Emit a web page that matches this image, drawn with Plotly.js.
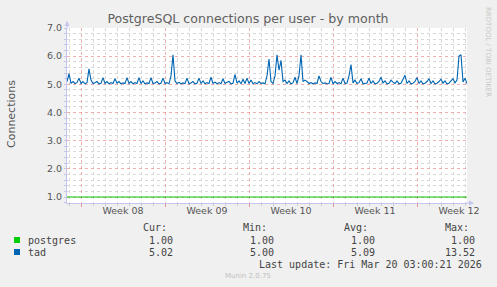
<!DOCTYPE html>
<html>
<head>
<meta charset="utf-8">
<script src="https://cdn.plot.ly/plotly-3.0.1.min.js"></script>
<style>html,body{margin:0;padding:0;background:#f0f0f0;}#chart{width:497px;height:287px;}</style>
</head>
<body>
<div id="chart"></div>
<script>
// ---- data ----
const seriesNames = ['postgres', 'tad'];
const seriesColors = ['#00cc00', '#0066b3'];
const startTime = Date.UTC(2026, 1, 14, 20, 0, 0); // first sample
const stepHours = 4;
// tad: connections, one value every 4 hours
const tadValues = [
  5.10, 5.38, 5.04, 5.10, 5.03, 5.06,
  5.22, 5.03, 5.10, 5.02, 5.06, 5.55,
  5.15, 5.03, 5.06, 5.10, 5.02, 5.04,
  5.24, 5.03, 5.10, 5.02, 5.06, 5.03,
  5.20, 5.04, 5.10, 5.02, 5.05, 5.03,
  5.24, 5.03, 5.10, 5.02, 5.06, 5.03,
  5.24, 5.03, 5.12, 5.02, 5.05, 5.03,
  5.24, 5.03, 5.05, 5.10, 5.02, 5.04,
  5.22, 5.03, 5.06, 5.02, 5.30, 6.05,
  5.12, 5.03, 5.07, 5.02, 5.05, 5.03,
  5.22, 5.02, 5.05, 5.10, 5.02, 5.04,
  5.22, 5.03, 5.12, 5.02, 5.06, 5.03,
  5.25, 5.03, 5.08, 5.02, 5.06, 5.02,
  5.20, 5.03, 5.07, 5.10, 5.02, 5.04,
  5.35, 5.04, 5.12, 5.02, 5.18, 5.03,
  5.22, 5.03, 5.15, 5.02, 5.06, 5.02,
  5.10, 5.03, 5.05, 5.02, 5.30, 5.90,
  5.10, 5.03, 5.30, 6.05, 5.50, 5.85,
  5.10, 5.15, 5.03, 5.12, 5.02, 5.05,
  5.25, 5.03, 5.30, 6.05, 5.10, 5.15,
  5.10, 5.03, 5.06, 5.02, 5.05, 5.03,
  5.30, 5.10, 5.03, 5.05, 5.02, 5.03,
  5.25, 5.02, 5.10, 5.03, 5.06, 5.02,
  5.22, 5.03, 5.05, 5.30, 5.70, 5.05,
  5.15, 5.03, 5.06, 5.20, 5.02, 5.04,
  5.05, 5.22, 5.03, 5.12, 5.02, 5.04,
  5.10, 5.25, 5.05, 5.12, 5.02, 5.04,
  5.15, 5.08, 5.03, 5.12, 5.02, 5.04,
  5.20, 5.32, 5.03, 5.12, 5.02, 5.04,
  5.10, 5.24, 5.03, 5.12, 5.02, 5.04,
  5.10, 5.20, 5.03, 5.12, 5.02, 5.04,
  5.10, 5.18, 5.04, 5.12, 5.02, 5.04,
  5.12, 5.20, 5.05, 5.15, 6.00, 6.05,
  5.08, 5.22, 5.02
];
// postgres: flat at 1.00 from first to last sample
const postgresValues = [1.00, 1.00];
const weekLabels = ['Week 08', 'Week 09', 'Week 10', 'Week 11', 'Week 12'];
const weekLabelDates = ['2026-02-19 12:00', '2026-02-26 12:00', '2026-03-05 12:00', '2026-03-12 12:00', '2026-03-19 12:00'];
const statHeaders = ['Cur:', 'Min:', 'Avg:', 'Max:'];
const statsPostgres = ['1.00', '1.00', '1.00', '1.00'];
const statsTad = ['5.02', '5.00', '5.09', '13.52'];
const lastUpdate = 'Last update: Fri Mar 20 03:00:21 2026';

// ---- build ----
const stepMs = stepHours * 3600e3;
const tadTimes = tadValues.map((_, i) => startTime + i * stepMs);
const endTime = tadTimes[tadTimes.length - 1];
const postgresTimes = [startTime, endTime];

const ML = 67, MT = 28, PW = 400, PH = 175;
const px = x => (x - ML) / PW;
const py = y => (MT + PH - y) / PH;

const grey = '#555555';
const axisCol = '#c4c4f0';
const majorGrid = 'rgba(235,120,120,0.6)';
const minorGrid = '#d8d8d8';

const traces = [
  {x: postgresTimes, y: postgresValues, type: 'scatter', mode: 'lines', xaxis: 'x2',
   line: {color: seriesColors[0], width: 1.1}, hoverinfo: 'skip', name: seriesNames[0]},
  {x: tadTimes, y: tadValues, type: 'scatter', mode: 'lines',
   line: {color: seriesColors[1], width: 1.1}, hoverinfo: 'skip', name: seriesNames[1]}
];

const ann = [];
function t(text, x, y, opts) {
  ann.push(Object.assign({text: text, xref: 'paper', yref: 'paper', x: px(x), y: py(y),
    showarrow: false, yanchor: 'middle', xanchor: 'left',
    font: {family: 'DejaVu Sans Mono', size: 10, color: '#444'}}, opts || {}));
}
const statRight = [175, 275.5, 376.5, 477];
const headRight = [169, 269, 370, 471];
statHeaders.forEach((h, i) => t(h, headRight[i], 227, {xanchor: 'right'}));
t(seriesNames[0], 26, 240);
t(seriesNames[1], 26, 252);
statsPostgres.forEach((v, i) => t(v, statRight[i], 240, {xanchor: 'right'}));
statsTad.forEach((v, i) => t(v, statRight[i], 252, {xanchor: 'right'}));
t(lastUpdate, 483.5, 264, {xanchor: 'right'});
t('Munin 2.0.75', 248, 276, {xanchor: 'center', font: {family: 'DejaVu Sans', size: 7, color: '#c0c0c0'}});
t('Connections', 11, 114, {xanchor: 'center', textangle: -90, font: {family: 'DejaVu Sans', size: 11, color: grey}});
t('RRDTOOL / TOBI OETIKER', 488, 52, {xanchor: 'center', textangle: 90, font: {family: 'DejaVu Sans', size: 7, color: '#c8c8c8'}});
// axis arrows
ann.push({xref: 'paper', yref: 'paper', x: 0, y: py(21), ax: 0, ay: 10, axref: 'pixel', ayref: 'pixel',
  showarrow: true, arrowhead: 2, arrowsize: 1, arrowwidth: 1, arrowcolor: axisCol, text: ''});
ann.push({xref: 'paper', yref: 'paper', x: px(474), y: 0, ax: -10, ay: 0, axref: 'pixel', ayref: 'pixel',
  showarrow: true, arrowhead: 2, arrowsize: 1, arrowwidth: 1, arrowcolor: axisCol, text: ''});

const shapes = [];
seriesColors.forEach((c, i) => {
  const yc = i === 0 ? 240 : 252;
  shapes.push({type: 'rect', xref: 'paper', yref: 'paper', x0: px(14), x1: px(20), y0: py(yc - 3), y1: py(yc + 3),
    fillcolor: c, line: {width: 0}});
});

const layout = {
  width: 497, height: 287,
  margin: {l: ML, r: 497 - ML - PW, t: MT, b: 287 - MT - PH, pad: 0},
  paper_bgcolor: '#f0f0f0', plot_bgcolor: '#ffffff',
  showlegend: false,
  title: {text: 'PostgreSQL connections per user - by month', x: 248 / 497, xanchor: 'center',
    y: 1 - 19 / 287, yanchor: 'middle', font: {family: 'DejaVu Sans', size: 12.6, color: '#606060'}},
  xaxis: {type: 'date', range: [startTime, endTime], fixedrange: true,
    tickmode: 'linear', tick0: '2026-02-16', dtick: 7 * 864e5,
    showticklabels: false, ticks: 'outside', ticklen: 3, tickcolor: 'rgba(235,120,120,0.8)',
    showgrid: true, gridcolor: majorGrid, griddash: 'dot', gridwidth: 1,
    minor: {tickmode: 'linear', tick0: '2026-02-15', dtick: 864e5, showgrid: true, gridcolor: minorGrid,
      griddash: 'dot', gridwidth: 1, ticks: 'outside', ticklen: 2, tickcolor: '#cccccc'},
    showline: true, linecolor: axisCol, linewidth: 1, zeroline: false},
  xaxis2: {type: 'date', overlaying: 'x', anchor: 'y', side: 'bottom', range: [startTime, endTime], fixedrange: true,
    tickmode: 'array', tickvals: weekLabelDates, ticktext: weekLabels, ticks: '',
    showgrid: false, showline: false, zeroline: false,
    tickfont: {family: 'DejaVu Sans', size: 9.5, color: grey}},
  yaxis: {range: [0.787, 7.0], fixedrange: true,
    tickmode: 'linear', tick0: 1, dtick: 1, tickformat: '.1f',
    tickfont: {family: 'DejaVu Sans', size: 9.5, color: grey},
    ticks: 'outside', ticklen: 2, tickcolor: axisCol,
    showgrid: true, gridcolor: majorGrid, griddash: 'dot', gridwidth: 1,
    minor: {tickmode: 'linear', tick0: 1, dtick: 0.2, showgrid: true, gridcolor: minorGrid,
      griddash: 'dot', gridwidth: 1, ticks: 'outside', ticklen: 2, tickcolor: axisCol},
    showline: true, linecolor: axisCol, linewidth: 1, zeroline: false},
  annotations: ann,
  shapes: shapes
};

Plotly.newPlot('chart', traces, layout, {displayModeBar: false, staticPlot: true});
</script>
</body>
</html>
